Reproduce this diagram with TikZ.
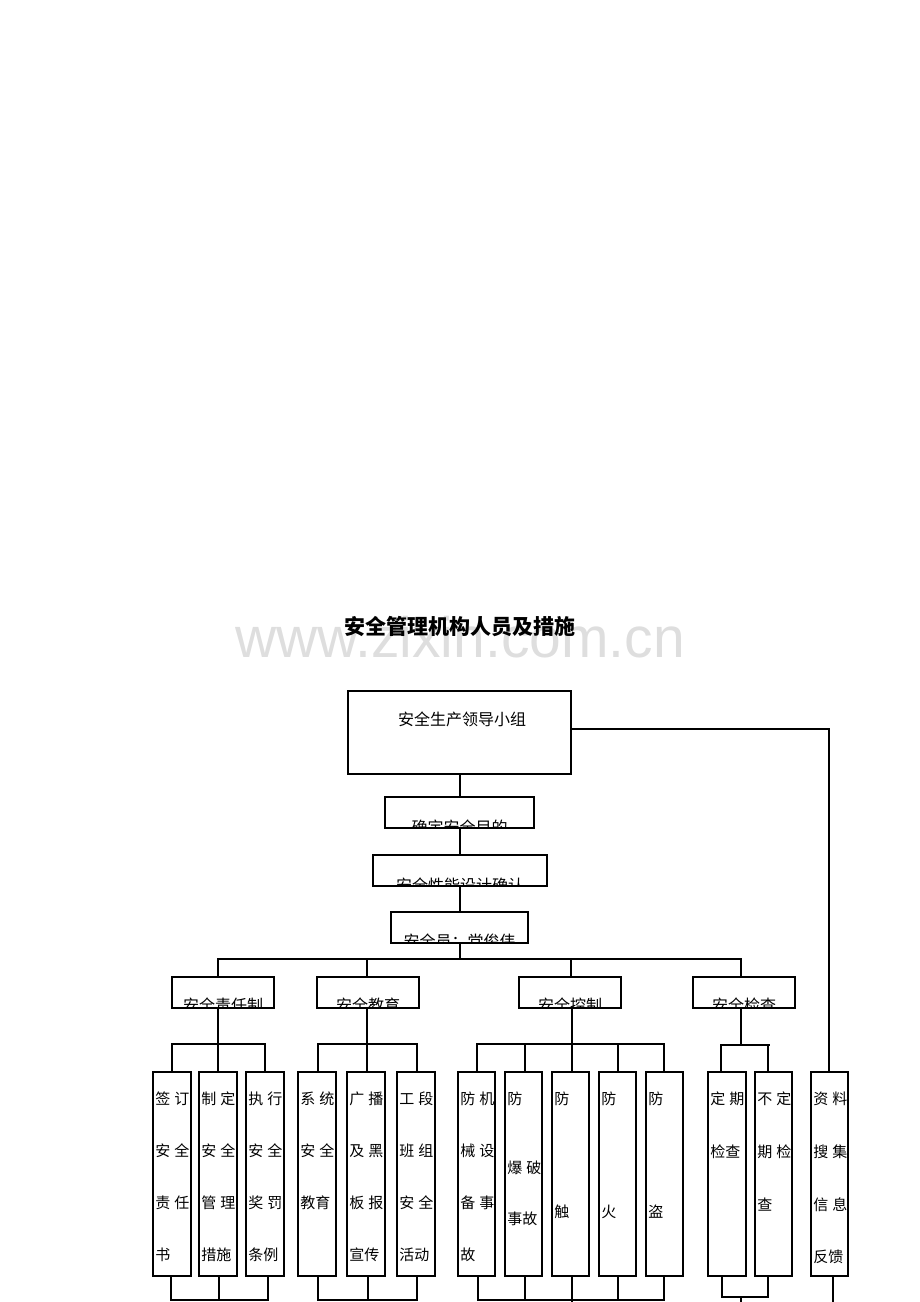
\documentclass[tikz,border=0pt]{standalone}
\usepackage{fontspec}
\setmainfont{Noto Sans CJK SC}
\setsansfont{Liberation Sans}
\newcounter{lnc}
\newcommand\mkbox[5]{\pgfmathsetmacro\mybw{#4-#2}\pgfmathsetmacro\mybh{#5-#3}%
  \node[bx,minimum width=\mybw pt,minimum height=\mybh pt] (#1) at (#2,#3) {};}
\newcommand\cliplabel[4]{\begin{scope}\clip (#2.north west) rectangle (#2.south east);
  \node[inner sep=0,font=\fontsize{16}{16}\selectfont] (#1) at (#2.center |- 0,#4) {#3};\end{scope}}
\newcommand\tline[3]{\stepcounter{lnc}\node[txt,name=L\arabic{lnc}] at (#1,#2) {#3};}
\newcommand\jt[2]{\hbox to 34pt{#1\hfill #2}}
\begin{document}
\begin{tikzpicture}[x=1pt,y=-1pt,line width=1.8pt,
  bx/.style={draw,line width=1.8pt,inner sep=0,outer sep=0,anchor=north west},
  txt/.style={inner sep=0,anchor=west,font=\fontsize{15}{15}\selectfont}]
\useasboundingbox (0,0) rectangle (920,1302);
% watermark and title
\node[font=\sffamily\fontsize{57}{57}\selectfont,text=black!13,anchor=base] (wm) at (460,657) {www.zixin.com.cn};
\node[font=\bfseries\fontsize{21}{21}\selectfont] (title) at (460,627) {安全管理机构人员及措施};
% upper boxes
\mkbox{top}{348}{691}{571}{774}
\node[font=\fontsize{16}{16}\selectfont,inner sep=0] (toptxt) at (462,719) {安全生产领导小组};
\mkbox{b2}{385}{797}{534}{828}
\mkbox{b3}{373}{855}{547}{886}
\mkbox{b4}{391}{912}{528}{943}
\cliplabel{t2}{b2}{确定安全目的}{827}
\cliplabel{t3}{b3}{安全性能设计确认}{885}
\cliplabel{t4}{b4}{安全员：党俊伟}{941}
% level 2
\mkbox{A}{172}{977}{274}{1008}
\mkbox{B}{317}{977}{419}{1008}
\mkbox{C}{519}{977}{621}{1008}
\mkbox{D}{693}{977}{795}{1008}
\cliplabel{tA}{A}{安全责任制}{1005}
\cliplabel{tB}{B}{安全教育}{1005}
\cliplabel{tC}{C}{安全控制}{1005}
\cliplabel{tD}{D}{安全检查}{1005}
% bottom boxes
\mkbox{s1}{153}{1072}{191}{1276}
\mkbox{s2}{199}{1072}{237}{1276}
\mkbox{s3}{246}{1072}{284}{1276}
\mkbox{s4}{298}{1072}{336}{1276}
\mkbox{s5}{347}{1072}{385}{1276}
\mkbox{s6}{397}{1072}{435}{1276}
\mkbox{s7}{458}{1072}{495}{1276}
\mkbox{s8}{505}{1072}{542}{1276}
\mkbox{s9}{552}{1072}{589}{1276}
\mkbox{s10}{599}{1072}{636}{1276}
\mkbox{s11}{646}{1072}{683}{1276}
\mkbox{s12}{708}{1072}{746}{1276}
\mkbox{s13}{755}{1072}{792}{1276}
\mkbox{s14}{811}{1072}{848}{1276}
% texts
\tline{154.5}{1099}{\jt{签}{订}}\tline{154.5}{1151}{\jt{安}{全}}\tline{154.5}{1203}{\jt{责}{任}}\tline{154.5}{1255}{书}
\tline{200.5}{1099}{\jt{制}{定}}\tline{200.5}{1151}{\jt{安}{全}}\tline{200.5}{1203}{\jt{管}{理}}\tline{200.5}{1255}{措施}
\tline{247.5}{1099}{\jt{执}{行}}\tline{247.5}{1151}{\jt{安}{全}}\tline{247.5}{1203}{\jt{奖}{罚}}\tline{247.5}{1255}{条例}
\tline{299.5}{1099}{\jt{系}{统}}\tline{299.5}{1151}{\jt{安}{全}}\tline{299.5}{1203}{教育}
\tline{348.5}{1099}{\jt{广}{播}}\tline{348.5}{1151}{\jt{及}{黑}}\tline{348.5}{1203}{\jt{板}{报}}\tline{348.5}{1255}{宣传}
\tline{398.5}{1099}{\jt{工}{段}}\tline{398.5}{1151}{\jt{班}{组}}\tline{398.5}{1203}{\jt{安}{全}}\tline{398.5}{1255}{活动}
\tline{459.5}{1099}{\jt{防}{机}}\tline{459.5}{1151}{\jt{械}{设}}\tline{459.5}{1203}{\jt{备}{事}}\tline{459.5}{1255}{故}
\tline{506.5}{1099}{防}\tline{506.5}{1168}{\jt{爆}{破}}\tline{506.5}{1219}{事故}
\tline{553.5}{1099}{防}\tline{553.5}{1212}{触}
\tline{600.5}{1099}{防}\tline{600.5}{1212}{火}
\tline{647.5}{1099}{防}\tline{647.5}{1212}{盗}
\tline{709.5}{1099}{\jt{定}{期}}\tline{709.5}{1152}{检查}
\tline{756.5}{1099}{\jt{不}{定}}\tline{756.5}{1152}{\jt{期}{检}}\tline{756.5}{1205}{查}
\tline{812.5}{1099}{\jt{资}{料}}\tline{812.5}{1152}{\jt{搜}{集}}\tline{812.5}{1205}{\jt{信}{息}}\tline{812.5}{1257}{反馈}
% chain connectors
\coordinate (mb) at (460,959);
\draw (top.south -| mb) -- (b2.north -| mb);
\draw (b2.south -| mb) -- (b3.north -| mb);
\draw (b3.south -| mb) -- (b4.north -| mb);
\draw (b4.south -| mb) -- (mb);
\draw (A.north -| 218,0) -- (218,959) -- (741,959) -- (D.north -| 741,0);
\draw (367,959) -- (B.north -| 367,0);
\draw (571,959) -- (C.north -| 571,0);
% right connector
\draw (top.east |- 0,729) -- (829,729) -- (s14.north -| 829,0);
% sub buses
\draw (A.south -| 218,0) -- (s2.north -| 218,0);
\draw (s1.north -| 172,0) -- (172,1044) -- (265,1044) -- (s3.north -| 265,0);
\draw (B.south -| 367,0) -- (s5.north -| 367,0);
\draw (s4.north -| 318,0) -- (318,1044) -- (417,1044) -- (s6.north -| 417,0);
\draw (C.south -| 572,0) -- (s9.north -| 572,0);
\draw (s7.north -| 477,0) -- (477,1044) -- (664,1044) -- (s11.north -| 664,0);
\draw (525,1044) -- (s8.north -| 525,0);
\draw (618,1044) -- (s10.north -| 618,0);
\draw (D.south -| 741,0) -- (741,1045);
\draw (s12.north -| 721,0) -- (721,1045) -- (770,1045);
\draw (768,1045) -- (s13.north -| 768,0);
% bottom buses
\draw (s1.south -| 171,0) -- (171,1300) -- (268,1300) -- (s3.south -| 268,0);
\draw (s2.south -| 219,0) -- (219,1300);
\draw (s4.south -| 318,0) -- (318,1300) -- (417,1300) -- (s6.south -| 417,0);
\draw (s5.south -| 368,0) -- (368,1300);
\draw (s7.south -| 478,0) -- (478,1300) -- (664,1300) -- (s11.south -| 664,0);
\draw (s8.south -| 525,0) -- (525,1300);
\draw (s9.south -| 572,0) -- (572,1310);
\draw (s10.south -| 618,0) -- (618,1300);
\draw (s12.south -| 722,0) -- (722,1297) -- (768,1297) -- (s13.south -| 768,0);
\draw (741,1297) -- (741,1310);
\draw (s14.south -| 833,0) -- (833,1310);
\end{tikzpicture}
\end{document}
